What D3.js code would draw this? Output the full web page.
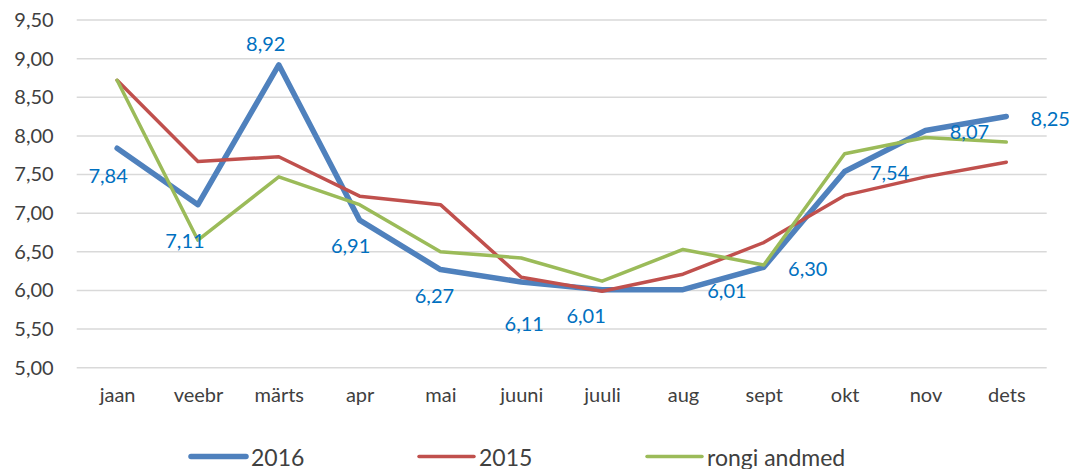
<!DOCTYPE html>
<html>
<head>
<meta charset="utf-8">
<script src="https://cdn.jsdelivr.net/npm/d3@7"></script>
<style>
  html, body { margin: 0; padding: 0; background: #fff; }
  svg { display: block; font-family: Lato, "Open Sans", sans-serif; }
</style>
</head>
<body>
<svg id="chart" width="1075" height="469"></svg>
<script>
// months on the x axis
const months = ["jaan", "veebr", "märts", "apr", "mai", "juuni", "juuli", "aug", "sept", "okt", "nov", "dets"];

// series values
const values2016 = [7.84, 7.11, 8.92, 6.91, 6.27, 6.11, 6.01, 6.01, 6.30, 7.54, 8.07, 8.25];
const values2015 = [8.72, 7.67, 7.73, 7.22, 7.11, 6.17, 5.99, 6.21, 6.62, 7.23, 7.47, 7.66];
const valuesRongi = [8.72, 6.65, 7.47, 7.11, 6.50, 6.42, 6.12, 6.53, 6.33, 7.77, 7.98, 7.92];

// y ticks
const yTicks = [5.0, 5.5, 6.0, 6.5, 7.0, 7.5, 8.0, 8.5, 9.0, 9.5];

// label nudges for the 2016 values (px, relative to the point)
const labelOffsets = [
  [-9, 27], [-13, 35], [-13, -22], [-9, 25], [-6, 25], [3, 41],
  [-16, 25], [44, 0], [44, 1], [45, 1], [44, 1], [44, 1]
];

const series = [
  { name: "2016", values: values2016, color: "#4F81BD", width: 5.5 },
  { name: "2015", values: values2015, color: "#C0504D", width: 3.5 },
  { name: "rongi andmed", values: valuesRongi, color: "#9BBB59", width: 3.5 }
];

const svg = d3.select("#chart");
const plotLeft = 76.7, plotRight = 1046.7, plotTop = 20, plotBottom = 367.7;

const x = d3.scalePoint()
  .domain(months)
  .range([plotLeft, plotRight])
  .padding(0.5);

const y = d3.scaleLinear()
  .domain([5, 9.5])
  .range([plotBottom, plotTop]);

const fmt = v => d3.format(".2f")(v).replace(".", ",");

// gridlines
svg.append("g")
  .selectAll("line")
  .data(yTicks)
  .join("line")
  .attr("x1", plotLeft)
  .attr("x2", plotRight)
  .attr("y1", d => y(d))
  .attr("y2", d => y(d))
  .attr("stroke", "#D9D9D9")
  .attr("stroke-width", 1.5);

// y axis labels
const yAxis = svg.append("g")
  .attr("transform", `translate(${plotLeft},0)`)
  .call(d3.axisLeft(y).tickValues(yTicks).tickFormat(fmt).tickSize(0).tickPadding(23));
yAxis.select(".domain").remove();
yAxis.selectAll("text")
  .attr("font-family", "Lato, 'Open Sans', sans-serif")
  .attr("font-size", 20)
  .attr("fill", "#404040");

// x axis labels
const xAxis = svg.append("g")
  .attr("transform", `translate(0,${plotBottom})`)
  .call(d3.axisBottom(x).tickSize(0).tickPadding(20));
xAxis.select(".domain").remove();
xAxis.selectAll("text")
  .attr("font-family", "Lato, 'Open Sans', sans-serif")
  .attr("font-size", 20)
  .attr("fill", "#404040");

// lines
const line = d3.line()
  .x((d, i) => x(months[i]))
  .y(d => y(d));

svg.append("g")
  .selectAll("path")
  .data(series)
  .join("path")
  .attr("d", d => line(d.values))
  .attr("fill", "none")
  .attr("stroke", d => d.color)
  .attr("stroke-width", d => d.width)
  .attr("stroke-linejoin", "round")
  .attr("stroke-linecap", "round");

// data labels for 2016
svg.append("g")
  .selectAll("text")
  .data(values2016)
  .join("text")
  .attr("x", (d, i) => x(months[i]) + labelOffsets[i][0])
  .attr("y", (d, i) => y(d) + labelOffsets[i][1])
  .attr("text-anchor", "middle")
  .attr("dominant-baseline", "central")
  .attr("font-size", 20)
  .attr("fill", "#0070C0")
  .text(fmt);

// legend
const legendX = [191, 419, 647];
const legend = svg.append("g")
  .selectAll("g")
  .data(series)
  .join("g")
  .attr("transform", (d, i) => `translate(${legendX[i]},456.5)`);

legend.append("line")
  .attr("x1", 0)
  .attr("x2", 55)
  .attr("stroke", d => d.color)
  .attr("stroke-width", d => d.width)
  .attr("stroke-linecap", "round");

legend.append("text")
  .attr("x", 60)
  .attr("dominant-baseline", "central")
  .attr("font-size", 23)
  .attr("fill", "#404040")
  .text(d => d.name);
</script>
</body>
</html>
